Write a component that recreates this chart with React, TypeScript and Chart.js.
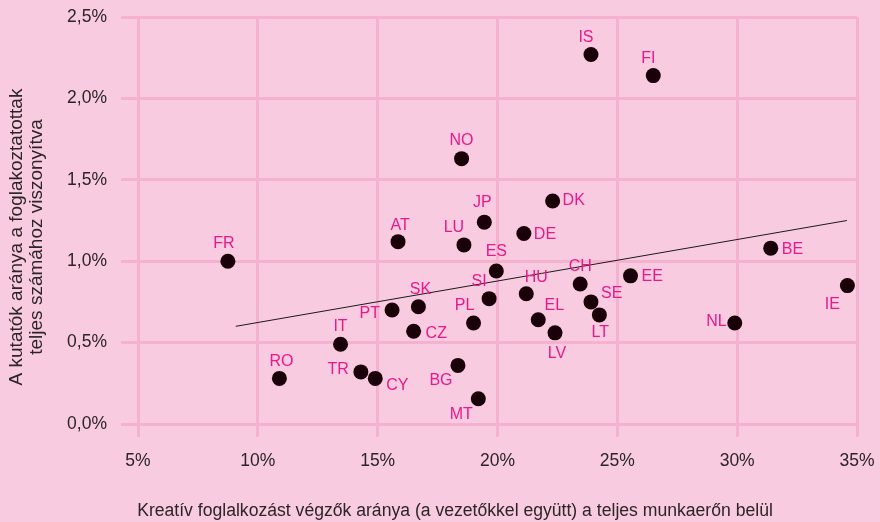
import React, { useEffect, useRef } from "react";
import { Chart, registerables } from "chart.js";

Chart.register(...registerables);

// ---- data ----
const countries = [
  "IS", "FI", "NO", "DK", "JP", "AT", "LU", "FR", "DE", "ES",
  "SI", "HU", "CH", "EE", "BE", "SE", "LT", "EL", "LV", "NL",
  "IE", "SK", "PT", "PL", "CZ", "IT", "RO", "TR", "CY", "BG", "MT",
];
const creativeShare = [
  23.9, 26.5, 18.5, 22.3, 19.45, 15.85, 18.6, 8.75, 21.1, 19.95,
  19.65, 21.2, 23.45, 25.55, 31.4, 23.9, 24.25, 21.7, 22.4, 29.9,
  34.6, 16.7, 15.6, 19.0, 16.5, 13.45, 10.9, 14.3, 14.9, 18.35, 19.2,
];
const researcherShare = [
  2.27, 2.14, 1.63, 1.37, 1.24, 1.12, 1.10, 1.00, 1.17, 0.94,
  0.77, 0.80, 0.86, 0.91, 1.08, 0.75, 0.67, 0.64, 0.56, 0.62,
  0.85, 0.72, 0.70, 0.62, 0.57, 0.49, 0.28, 0.32, 0.28, 0.36, 0.155,
];
const trendX = [9.08, 34.58];
const trendY = [0.6, 1.25];
const xTicks = [5, 10, 15, 20, 25, 30, 35];
const yTicks = [0, 0.5, 1.0, 1.5, 2.0, 2.5];

const xTitle = "Kreatív foglalkozást végzők aránya (a vezetőkkel együtt) a teljes munkaerőn belül";
const yTitleLines = ["A kutatók aránya a foglakoztatottak", "teljes számához viszonyítva"];

// ---- label placement (style, not data) ----
const labelPlacement: Record<string, [number, number, CanvasTextAlign]> = {
  IS: [-5, -17, "center"],
  FI: [-5, -17, "center"],
  NO: [0, -18, "center"],
  JP: [-2, -20, "center"],
  DK: [10, 0, "left"],
  AT: [2, -16, "center"],
  LU: [-10, -17, "center"],
  FR: [-4, -18, "center"],
  DE: [10, 1, "left"],
  ES: [0, -19, "center"],
  SI: [-10, -17, "center"],
  HU: [10, -16, "center"],
  CH: [0, -17, "center"],
  EE: [11, 1, "left"],
  BE: [11, 1, "left"],
  SE: [10, -8, "left"],
  LT: [1, 18, "center"],
  EL: [16, -14, "center"],
  LV: [2, 21, "center"],
  NL: [-8, -1, "right"],
  IE: [-15, 19, "center"],
  SK: [2, -17, "center"],
  PT: [-12, 4, "right"],
  PL: [-9, -17, "center"],
  CZ: [12, 2, "left"],
  IT: [0, -18, "center"],
  RO: [2, -17, "center"],
  TR: [-12, -2, "right"],
  CY: [11, 7, "left"],
  BG: [-17, 15, "center"],
  MT: [-17, 16, "center"],
};

const FONT = '"Liberation Sans", Arial, Helvetica, sans-serif';
const BG = "#f8cbe0";
const GRID = "#f4b2d0";
const TEXT = "#2b2527";
const LABEL = "#e8198b";
const DOT = "#1a0008";

const labelsPlugin = {
  id: "pointLabels",
  afterDatasetsDraw(chart: any) {
    const ctx = chart.ctx;
    const meta = chart.getDatasetMeta(0);
    ctx.save();
    ctx.font = `16px ${FONT}`;
    ctx.fillStyle = LABEL;
    ctx.textBaseline = "middle";
    meta.data.forEach((el: any, i: number) => {
      const code = countries[i];
      const p = labelPlacement[code] || [0, -17, "center"];
      ctx.textAlign = p[2];
      ctx.fillText(code, el.x + p[0], el.y + p[1]);
    });
    ctx.restore();
  },
};

const axisTitlesPlugin = {
  id: "axisTitles",
  afterDraw(chart: any) {
    const ctx = chart.ctx;
    ctx.save();
    ctx.fillStyle = TEXT;
    ctx.textAlign = "center";
    ctx.textBaseline = "middle";
    ctx.font = `17.6px ${FONT}`;
    ctx.fillText(xTitle, 455, 511);
    ctx.font = `19px ${FONT}`;
    ctx.translate(27, 237);
    ctx.rotate(-Math.PI / 2);
    ctx.fillText(yTitleLines[0], 0, -10);
    ctx.fillText(yTitleLines[1], 0, 10);
    ctx.restore();
  },
};

export default function App() {
  const ref = useRef<HTMLCanvasElement>(null);

  useEffect(() => {
    if (!ref.current) return;
    const chart = new Chart(ref.current, {
      type: "scatter",
      data: {
        datasets: [
          {
            label: "Országok",
            data: countries.map((_, i) => ({ x: creativeShare[i], y: researcherShare[i] })),
            backgroundColor: DOT,
            borderWidth: 0,
            pointRadius: 7.5,
            order: 2,
          },
          {
            label: "Trend",
            type: "line",
            data: trendX.map((x, i) => ({ x, y: trendY[i] })),
            borderColor: "#1a1a1a",
            borderWidth: 1,
            pointRadius: 0,
            fill: false,
            order: 1,
          } as any,
        ],
      },
      options: {
        responsive: false,
        animation: false,
        devicePixelRatio: 1,
        layout: { padding: { top: 17, right: 23, bottom: 0, left: 0 } },
        plugins: {
          legend: { display: false },
          tooltip: { enabled: false },
        },
        scales: {
          x: {
            type: "linear",
            min: 5,
            max: 35,
            afterBuildTicks: (scale: any) => {
              scale.ticks = xTicks.map((v) => ({ value: v }));
            },
            afterFit: (scale: any) => {
              scale.height = 98;
              scale.paddingLeft = 0;
              scale.paddingRight = 0;
            },
            grid: { color: GRID, lineWidth: 3, tickLength: 13, drawTicks: true },
            border: { display: false },
            ticks: {
              color: TEXT,
              font: { family: FONT, size: 17.5 },
              padding: 14,
              callback: (v: any) => `${v}%`,
            },
          },
          y: {
            type: "linear",
            min: 0,
            max: 2.5,
            afterBuildTicks: (scale: any) => {
              scale.ticks = yTicks.map((v) => ({ value: v }));
            },
            afterFit: (scale: any) => {
              scale.width = 138;
              scale.paddingTop = 0;
              scale.paddingBottom = 0;
            },
            grid: { color: GRID, lineWidth: 3, tickLength: 17, drawTicks: true },
            border: { display: false },
            ticks: {
              color: TEXT,
              font: { family: FONT, size: 17.5 },
              padding: 14,
              callback: (v: any) => `${Number(v).toFixed(1).replace(".", ",")}%`,
            },
          },
        },
      },
      plugins: [labelsPlugin, axisTitlesPlugin],
    });
    return () => chart.destroy();
  }, []);

  return (
    <div
      style={{
        position: "fixed",
        left: 0,
        top: 0,
        width: 880,
        height: 522,
        background: BG,
      }}
    >
      <canvas ref={ref} width={880} height={522} style={{ display: "block", width: 880, height: 522 }} />
    </div>
  );
}
